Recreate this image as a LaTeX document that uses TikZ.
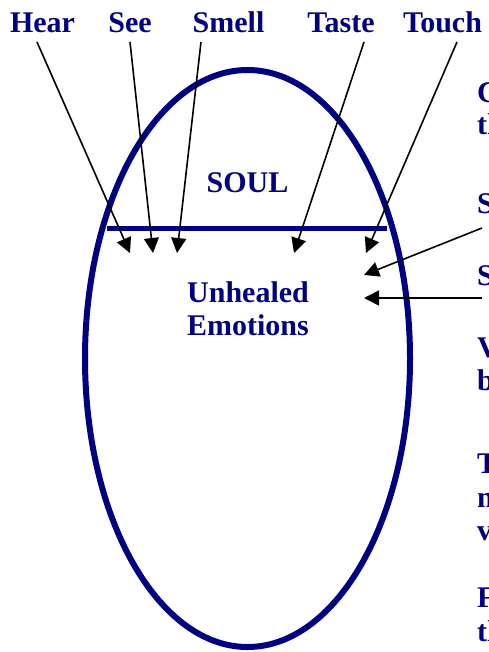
\documentclass[tikz,border=0pt]{standalone}
\usepackage{fontspec}
\setmainfont{Liberation Serif}
\usetikzlibrary{shapes.geometric,arrows.meta,positioning}
\definecolor{soulblue}{RGB}{0,0,128}

\tikzset{
  word/.style={font=\bfseries\fontsize{30}{33}\selectfont, text=soulblue, inner sep=0pt, anchor=base},
  sidetext/.style={word, anchor=base west},
  pointer/.style={draw=black, line width=1.6pt, -{Triangle[length=15pt,width=15pt]}}
}

\begin{document}
\begin{tikzpicture}[x=1pt, y=-1pt]
\clip (0,0) rectangle (488,652);

% the egg and the dividing line
\node[ellipse, draw=soulblue, line width=6pt, minimum width=325pt,
      minimum height=577pt, inner sep=0pt] (egg) at (247.5,358.5) {};
\coordinate (rim-l) at (107,228.5);
\coordinate (rim-r) at (387,228.5);
\draw[soulblue, line width=4.5pt] (rim-l) -- (rim-r);

% the five senses
\node[word] (hear)  at (42.5,33) {Hear};
\node[word] (see)   at (130,33)  {See};
\node[word] (smell) at (228.5,33) {Smell};
\node[word] (taste) at (341,33)  {Taste};
\node[word] (touch) at (442.5,33) {Touch};

% inner labels
\node[word] (soul)     at (247.5,193) {SOUL};
\node[word] (unhealed) at (248,302)   {Unhealed};
\node[word] (emotions) at (248,335)   {Emotions};

% arrow tips below the line
\coordinate (hear-in)  at (130,253);
\coordinate (see-in)   at (153,253);
\coordinate (smell-in) at (177,253);
\coordinate (taste-in) at (294,253);
\coordinate (touch-in) at (366,253);
\coordinate (side-a-in) at (364,275);
\coordinate (side-b-in) at (364,298);

\draw[pointer] ([shift={(-5.5,9)}]hear.base)  -- (hear-in);
\draw[pointer] ([shift={(0,9)}]see.base)      -- (see-in);
\draw[pointer] ([shift={(-27.5,9)}]smell.base) -- (smell-in);
\draw[pointer] ([shift={(23,9)}]taste.base)   -- (taste-in);
\draw[pointer] ([shift={(14.5,9)}]touch.base) -- (touch-in);

% text running off the right edge
\foreach \y/\t [count=\i] in {103/C, 135/th, 213/S, 285/S, 357/V, 390/b,
                              473/T, 507/n, 540/v, 607/F, 641/th}
  \node[sidetext] (side-\i) at (477,\y) {\t};

\draw[pointer] ([shift={(5,15)}]side-3.base west) -- (side-a-in);
\draw[pointer] ([shift={(5,13)}]side-4.base west) -- (side-b-in);
\end{tikzpicture}
\end{document}
